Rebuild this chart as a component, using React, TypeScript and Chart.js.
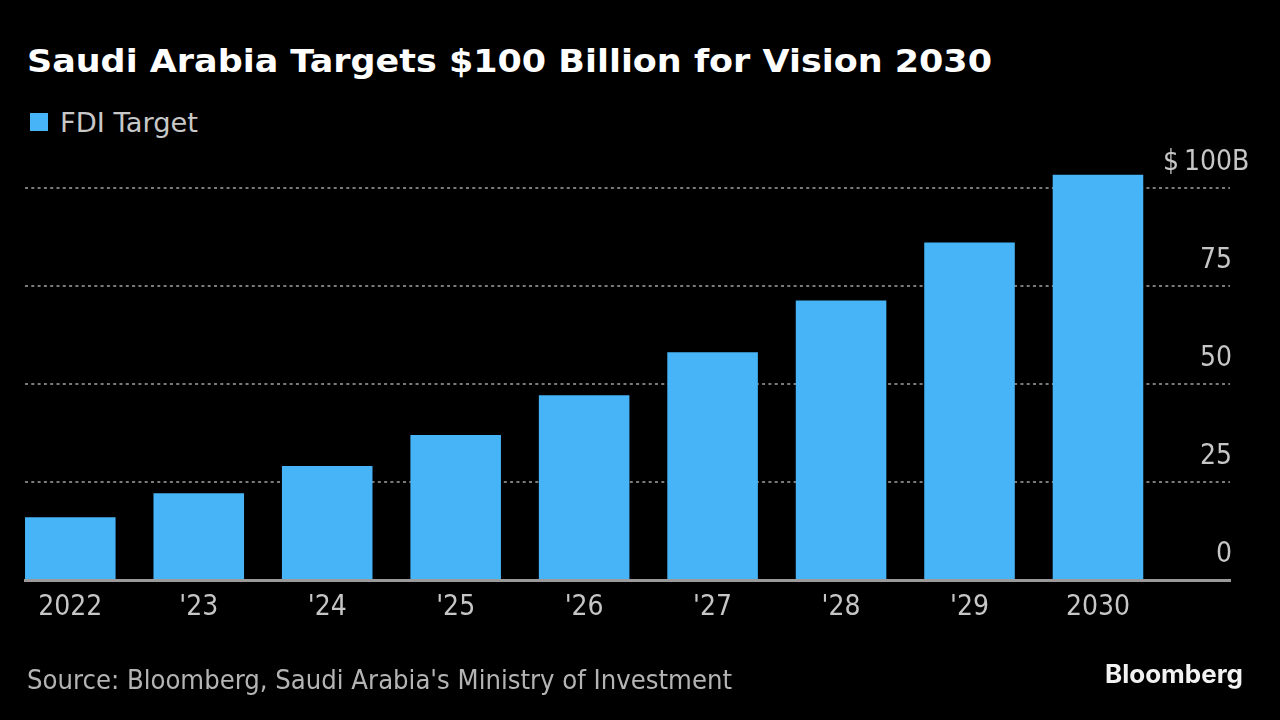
import React, { useEffect, useLayoutEffect, useRef } from 'react';
import { Chart, registerables } from 'chart.js';

Chart.register(...registerables);

// ---- data ----
const categories = ['2022', "'23", "'24", "'25", "'26", "'27", "'28", "'29", '2030'];
const fdiTarget = [16.0, 22.1, 29.1, 37.0, 47.1, 58.1, 71.3, 86.1, 103.4];
const yTicks = [0, 25, 50, 75, 100];
const yTickLabels = ['0', '25', '50', '75', '$\u2009100'];
const yTopSuffix = 'B';
const seriesName = 'FDI Target';
const titleText = 'Saudi Arabia Targets $100 Billion for Vision 2030';
const sourceText = "Source: Bloomberg, Saudi Arabia's Ministry of Investment";
const brandText = 'Bloomberg';

// ---- styles ----
const BAR_COLOR = '#46B4F6';
const TICK_COLOR = '#c6c6c6';
const TICK_FAMILY = "'DejaVu Sans Condensed', 'Noto Sans', sans-serif";

const FitText: React.FC<{ text: string; width: number; style: React.CSSProperties }> = ({ text, width, style }) => {
  const ref = useRef<HTMLDivElement>(null);
  useLayoutEffect(() => {
    const el = ref.current;
    if (!el) return;
    el.style.transform = 'none';
    const w = el.getBoundingClientRect().width;
    if (w > 0) el.style.transform = `scaleX(${width / w})`;
  }, [text, width]);
  return (
    <div
      ref={ref}
      style={{
        position: 'absolute',
        whiteSpace: 'nowrap',
        display: 'inline-block',
        lineHeight: 1,
        transformOrigin: '0 0',
        ...style,
      }}
    >
      {text}
    </div>
  );
};

const yLabelPlugin = {
  id: 'yLabels',
  afterDraw(chart: any) {
    const { ctx, chartArea } = chart;
    const y = chart.scales.y;
    ctx.save();
    ctx.font = `28px ${TICK_FAMILY}`;
    ctx.fillStyle = TICK_COLOR;
    ctx.textBaseline = 'alphabetic';
    yTicks.forEach((v, i) => {
      const py = y.getPixelForValue(v) - 18;
      ctx.textAlign = 'right';
      ctx.fillText(yTickLabels[i], chartArea.right + 2, py);
      if (i === yTicks.length - 1) {
        ctx.textAlign = 'left';
        ctx.fillText(yTopSuffix, chartArea.right + 2, py);
      }
    });
    ctx.restore();
  },
};

export default function App() {
  const canvasRef = useRef<HTMLCanvasElement>(null);

  useEffect(() => {
    document.body.style.margin = '0';
    document.body.style.background = '#000';
    const canvas = canvasRef.current;
    if (!canvas) return;
    const chart = new Chart(canvas, {
      type: 'bar',
      data: {
        datasets: [
          {
            label: seriesName,
            data: fdiTarget.map((v, i) => ({ x: i, y: v })),
            backgroundColor: BAR_COLOR,
            borderWidth: 0,
            categoryPercentage: 1,
            barPercentage: 0.705,
          },
        ],
      },
      options: {
        animation: false,
        responsive: false,
        maintainAspectRatio: false,
        devicePixelRatio: 1,
        layout: { padding: { left: 25, right: 50, top: 148.8, bottom: 0 } },
        plugins: {
          legend: { display: false },
          title: { display: false },
          tooltip: { enabled: false },
        },
        scales: {
          x: {
            type: 'linear',
            offset: false,
            min: -0.3526,
            max: 9.0278,
            afterBuildTicks: (s: any) => {
              s.ticks = categories.map((_, i) => ({ value: i }));
            },
            afterFit: (s: any) => {
              s.height = 140;
            },
            grid: { display: true, offset: false, drawOnChartArea: false, drawTicks: false },
            border: { display: true, color: '#9a9a9a', width: 3 },
            ticks: {
              color: TICK_COLOR,
              font: { family: TICK_FAMILY, size: 28 },
              padding: 11,
              maxRotation: 0,
              autoSkip: false,
              callback: (v: any) => categories[Math.round(Number(v))] ?? '',
            },
          },
          y: {
            position: 'right',
            min: 0,
            max: 110,
            afterBuildTicks: (s: any) => {
              s.ticks = yTicks.map((v) => ({ value: v }));
            },
            afterFit: (s: any) => {
              s.width = 0;
            },
            grid: {
              color: (c: any) => (c.tick && c.tick.value === 0 ? 'rgba(0,0,0,0)' : '#7a7a7a'),
              lineWidth: 2,
              drawTicks: false,
            },
            border: { display: false, dash: [3, 3.3] },
            ticks: { display: false },
          },
        },
      },
      plugins: [yLabelPlugin],
    });
    return () => chart.destroy();
  }, []);

  return (
    <div
      style={{
        position: 'fixed',
        left: 0,
        top: 0,
        width: 1280,
        height: 720,
        background: '#000',
        overflow: 'hidden',
      }}
    >
      <FitText
        text={titleText}
        width={965}
        style={{ left: 27, top: 44.6, fontFamily: "'DejaVu Sans', sans-serif", fontWeight: 700, fontSize: 32, color: '#ffffff' }}
      />
      <div style={{ position: 'absolute', left: 30, top: 113, width: 18, height: 18, background: BAR_COLOR }} />
      <FitText
        text={seriesName}
        width={138}
        style={{ left: 60, top: 108.9, fontFamily: "'DejaVu Sans', sans-serif", fontSize: 27, color: '#c8c8c8' }}
      />
      <canvas ref={canvasRef} width={1280} height={720} style={{ position: 'absolute', left: 0, top: 0, width: 1280, height: 720 }} />
      <FitText
        text={sourceText}
        width={705}
        style={{ left: 27, top: 665.5, fontFamily: "'DejaVu Sans', sans-serif", fontSize: 27, color: '#b4b4b4' }}
      />
      <FitText
        text={brandText}
        width={138}
        style={{ left: 1105, top: 661.7, fontFamily: "Inter, 'Open Sans', sans-serif", fontWeight: 700, fontSize: 25, color: '#f2f2f2' }}
      />
    </div>
  );
}
